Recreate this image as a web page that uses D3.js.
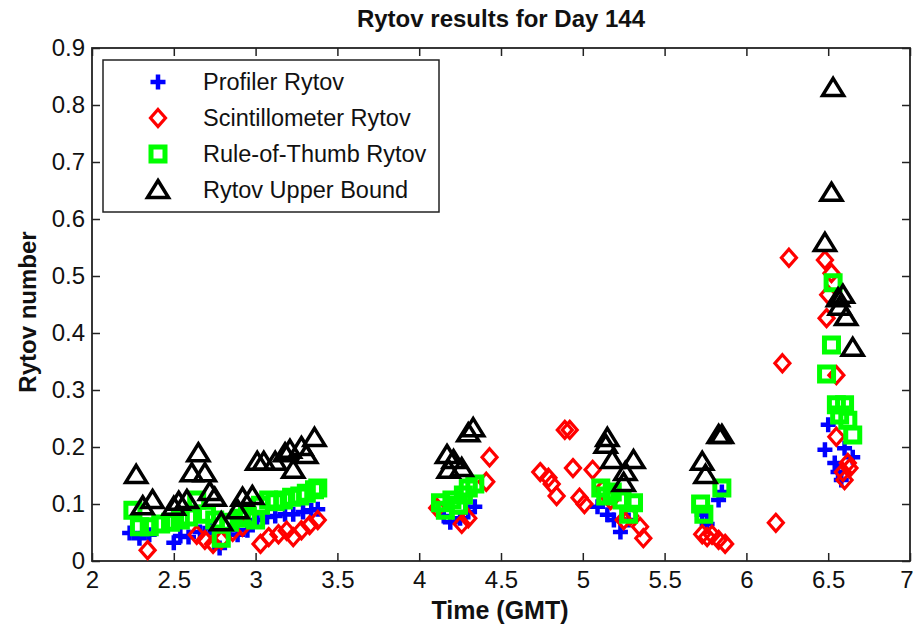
<!DOCTYPE html>
<html>
<head>
<meta charset="utf-8">
<script src="https://cdn.jsdelivr.net/npm/d3@7"></script>
<style>
  html, body { margin: 0; padding: 0; background: #fff; }
  svg { display: block; font-family: "Liberation Sans", Arial, sans-serif; }
</style>
</head>
<body>
<svg id="chart" width="913" height="626"></svg>
<script>
// Day 144 Rytov estimates, time in GMT hours
const profilerTime = [2.23,2.29,2.35,2.50,2.54,2.59,2.66,2.72,2.78,2.84,2.89,2.95,3.01,3.07,3.12,3.18,3.23,3.29,3.34,3.38,
  4.15,4.19,4.25,4.30,4.34,
  5.09,5.15,5.19,5.23,5.28,
  5.73,5.76,5.83,5.85,
  6.50,6.48,6.60,6.65,6.54,6.56,6.58];
const profilerRytov = [0.049,0.040,0.046,0.032,0.044,0.042,0.051,0.058,0.023,0.054,0.046,0.054,0.072,0.077,0.079,0.082,0.082,0.086,0.089,0.091,
  0.079,0.068,0.075,0.086,0.095,
  0.095,0.081,0.072,0.051,0.072,
  0.081,0.065,0.107,0.121,
  0.239,0.195,0.198,0.182,0.172,0.156,0.142];

const scintTime = [2.34,2.64,2.69,2.74,2.79,2.86,2.92,3.03,3.08,3.14,3.19,3.23,3.28,3.33,3.38,
  4.11,4.26,4.30,4.41,4.43,
  4.89,4.92,4.74,4.79,4.81,4.84,4.94,4.98,5.01,5.06,5.12,5.17,5.25,5.29,5.35,5.37,
  5.73,5.76,5.79,5.83,5.87,
  6.18,6.22,6.26,
  6.48,6.52,6.50,6.49,6.55,6.55,6.62,6.59,6.60,6.63];
const scintRytov = [0.019,0.046,0.037,0.030,0.037,0.051,0.060,0.030,0.042,0.047,0.053,0.042,0.054,0.063,0.072,
  0.093,0.065,0.075,0.139,0.182,
  0.230,0.230,0.156,0.146,0.135,0.114,0.163,0.111,0.100,0.160,0.125,0.107,0.072,0.079,0.060,0.040,
  0.047,0.042,0.046,0.037,0.030,
  0.067,0.347,0.532,
  0.528,0.505,0.467,0.426,0.326,0.218,0.172,0.156,0.142,0.163];

const thumbTime = [2.25,2.29,2.35,2.42,2.48,2.54,2.59,2.64,2.70,2.75,2.79,2.84,2.90,2.95,3.00,3.03,3.08,3.12,3.17,3.22,3.27,3.31,3.36,3.38,
  4.13,4.16,4.20,4.24,4.27,4.30,4.34,
  5.11,5.14,5.18,5.24,5.28,5.31,
  5.72,5.74,5.85,
  6.53,6.52,6.49,6.55,6.60,6.57,6.62,6.65];
const thumbRytov = [0.089,0.060,0.060,0.065,0.068,0.072,0.077,0.107,0.082,0.072,0.040,0.068,0.075,0.079,0.072,0.098,0.107,0.104,0.107,0.112,0.114,0.119,0.125,0.128,
  0.102,0.089,0.107,0.098,0.116,0.128,0.135,
  0.128,0.114,0.121,0.107,0.082,0.102,
  0.100,0.082,0.128,
  0.488,0.379,0.328,0.274,0.274,0.256,0.247,0.221];

const boundTime = [2.27,2.31,2.37,2.50,2.53,2.58,2.61,2.65,2.69,2.72,2.75,2.79,2.89,2.92,2.98,3.01,3.05,3.12,3.18,3.21,3.23,3.28,3.31,3.36,
  4.33,4.30,4.17,4.21,4.18,4.26,
  5.15,5.14,5.18,5.31,5.26,5.25,
  5.83,5.85,5.73,5.75,
  6.53,6.52,6.48,6.56,6.59,6.57,6.61,6.65];
const boundRytov = [0.151,0.096,0.107,0.095,0.104,0.107,0.154,0.189,0.154,0.121,0.111,0.068,0.089,0.111,0.114,0.174,0.174,0.174,0.189,0.195,0.160,0.200,0.186,0.216,
  0.233,0.224,0.186,0.177,0.160,0.163,
  0.216,0.204,0.177,0.177,0.156,0.137,
  0.221,0.221,0.174,0.151,
  0.830,0.646,0.558,0.461,0.467,0.446,0.428,0.374];

const xTicks = [2, 2.5, 3, 3.5, 4, 4.5, 5, 5.5, 6, 6.5, 7];
const yTicks = [0, 0.1, 0.2, 0.3, 0.4, 0.5, 0.6, 0.7, 0.8, 0.9];
const seriesNames = ["Profiler Rytov", "Scintillometer Rytov", "Rule-of-Thumb Rytov", "Rytov Upper Bound"];

const svg = d3.select("#chart");
const plotLeft = 92, plotRight = 910, plotTop = 48, plotBottom = 561;
const x = d3.scaleLinear().domain([2, 7]).range([plotLeft, plotRight]);
const y = d3.scaleLinear().domain([0, 0.9]).range([plotBottom, plotTop]);

// marker shapes (MATLAB-style plot markers)
const shapes = {
  cross: "M-7.5,0H7.5M0,-7.5V7.5",
  diamond: "M0,-8.5L7.5,0L0,8.5L-7.5,0Z",
  square: "M-7,-7H7V7H-7Z",
  triangle: "M0,-9.5L10.5,7.5L-10.5,7.5Z"
};
const styles = [
  { shape: "cross", color: "#0000ff", width: 4.5 },
  { shape: "diamond", color: "#ff0000", width: 3.2 },
  { shape: "square", color: "#00ff00", width: 5 },
  { shape: "triangle", color: "#000000", width: 3.5 }
];
const seriesData = [
  [profilerTime, profilerRytov],
  [scintTime, scintRytov],
  [thumbTime, thumbRytov],
  [boundTime, boundRytov]
];

// axes with inward ticks on all four sides
const fontSize = 24;
const axisBottom = svg.append("g").attr("transform", `translate(0,${plotBottom})`)
  .call(d3.axisBottom(x).tickValues(xTicks).tickSizeInner(-8).tickSizeOuter(0).tickPadding(10).tickFormat(d3.format("")));
const axisTop = svg.append("g").attr("transform", `translate(0,${plotTop})`)
  .call(d3.axisTop(x).tickValues(xTicks).tickSizeInner(-8).tickSizeOuter(0).tickFormat(""));
const axisLeft = svg.append("g").attr("transform", `translate(${plotLeft},0)`)
  .call(d3.axisLeft(y).tickValues(yTicks).tickSizeInner(-8).tickSizeOuter(0).tickPadding(7).tickFormat(d3.format("")));
const axisRight = svg.append("g").attr("transform", `translate(${plotRight},0)`)
  .call(d3.axisRight(y).tickValues(yTicks).tickSizeInner(-8).tickSizeOuter(0).tickFormat(""));
[axisBottom, axisTop, axisLeft, axisRight].forEach(g => {
  g.select(".domain").remove();
  g.selectAll("line").attr("stroke", "#222").attr("stroke-width", 1.5);
  g.selectAll("text").attr("font-size", fontSize).attr("fill", "#111")
    .attr("font-family", "'Liberation Sans', Arial, sans-serif");
});
// keep the last x label inside the canvas
axisBottom.selectAll(".tick text").filter(d => d === 7)
  .attr("text-anchor", "end").attr("x", 3);

svg.append("rect").attr("x", plotLeft).attr("y", plotTop)
  .attr("width", plotRight - plotLeft).attr("height", plotBottom - plotTop)
  .attr("fill", "none").attr("stroke", "#222").attr("stroke-width", 1.8);

// data markers
seriesData.forEach(([ts, vs], i) => {
  const st = styles[i];
  svg.append("g").selectAll("path").data(ts.map((t, k) => [t, vs[k]])).join("path")
    .attr("d", shapes[st.shape])
    .attr("transform", d => `translate(${x(d[0])},${y(d[1])})`)
    .attr("fill", "none").attr("stroke", st.color).attr("stroke-width", st.width)
    .attr("stroke-linejoin", "miter");
});

// legend
const lg = svg.append("g");
lg.append("rect").attr("x", 103).attr("y", 60).attr("width", 336).attr("height", 152)
  .attr("fill", "#fff").attr("stroke", "#222").attr("stroke-width", 1.5);
seriesNames.forEach((name, i) => {
  const cy = 82 + i * 36;
  const st = styles[i];
  lg.append("path").attr("d", shapes[st.shape]).attr("transform", `translate(158,${cy})`)
    .attr("fill", "none").attr("stroke", st.color).attr("stroke-width", st.width);
  lg.append("text").attr("x", 203).attr("y", cy).attr("dy", "0.36em")
    .attr("font-size", 23.5).attr("fill", "#111").text(name);
});

// titles
svg.append("text").attr("x", 501).attr("y", 27).attr("text-anchor", "middle")
  .attr("font-size", 24).attr("font-weight", "bold").attr("fill", "#111").text("Rytov results for Day 144");
svg.append("text").attr("x", 500).attr("y", 619).attr("text-anchor", "middle")
  .attr("font-size", 25).attr("font-weight", "bold").attr("fill", "#111").text("Time (GMT)");
svg.append("text").attr("transform", "translate(36,312) rotate(-90)").attr("text-anchor", "middle")
  .attr("font-size", 24).attr("font-weight", "bold").attr("fill", "#111").text("Rytov number");
</script>
</body>
</html>
